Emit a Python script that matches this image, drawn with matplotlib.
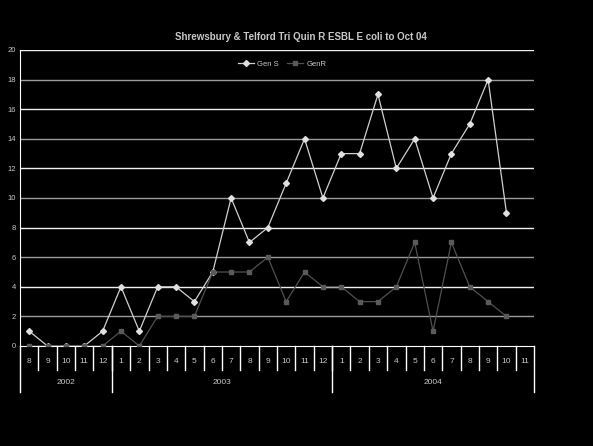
import numpy as np
import matplotlib
matplotlib.use('Agg')
import matplotlib.pyplot as plt

# donnees
months = ['8', '9', '10', '11', '12',
          '1', '2', '3', '4', '5', '6', '7', '8', '9', '10', '11', '12',
          '1', '2', '3', '4', '5', '6', '7', '8', '9', '10', '11']
years = ['2002', '2003', '2004']
months_per_year = [5, 12, 11]
gen_s = [1, 0, 0, 0, 1, 4, 1, 4, 4, 3, 5, 10, 7, 8, 11, 14, 10,
         13, 13, 17, 12, 14, 10, 13, 15, 18, 9, np.nan]
gen_r = [0, 0, 0, 0, 0, 1, 0, 2, 2, 2, 5, 5, 5, 6, 3, 5, 4,
         4, 3, 3, 4, 7, 1, 7, 4, 3, 2, np.nan]

plt.rcParams['font.family'] = ['Liberation Sans Narrow', 'Liberation Sans', 'DejaVu Sans']
txt = '#c8c8c8'

fig = plt.figure(figsize=(5.93, 4.46), dpi=100, facecolor='black')
ax = fig.add_axes([20/593, 1-346/446, 514/593, 296/446], facecolor='black')

n = len(months)
x = np.arange(n) + 0.5

# grille (rendu alterne clair / gris comme sur l'original)
for v in range(2, 21, 2):
    c = '#9a9a9a' if v in (2, 6, 10, 14, 18) else '#f0f0f0'
    ax.axhline(v, color=c, lw=1, zorder=1)

ax.plot(x, gen_s, color='#d0d0d0', lw=0.9, marker='D', ms=3,
        mfc='#e0e0e0', mec='#e0e0e0', label='Gen S', zorder=3)
ax.plot(x, gen_r, color='#505050', lw=0.9, marker='s', ms=3,
        mfc='#5a5a5a', mec='#5a5a5a', label='GenR', zorder=3)

ax.set_xlim(0, n)
ax.set_ylim(0, 20)
ax.set_yticks(range(0, 21, 2))
ax.tick_params(axis='y', colors=txt, labelsize=5.5, length=0, pad=3)
ax.set_xticks([])
for s in ['top', 'right']:
    ax.spines[s].set_visible(False)
ax.spines['left'].set_color('white')
ax.spines['bottom'].set_color('white')

# axe x a deux niveaux
trans = ax.get_xaxis_transform()
for i, m in enumerate(months):
    ax.text(i + 0.5, -0.051, m, transform=trans, ha='center', va='center',
            color=txt, fontsize=6)
for i in range(1, n):
    ax.plot([i, i], [0, -0.08], transform=trans, color='white', lw=1, clip_on=False)
start = 0
bounds = [0]
for y, k in zip(years, months_per_year):
    ax.text(start + k / 2, -0.125, y, transform=trans, ha='center', va='center',
            color=txt, fontsize=6)
    start += k
    bounds.append(start)
for b in bounds:
    ax.plot([b, b], [0, -0.155], transform=trans, color='white', lw=1, clip_on=False)

fig.text(0.508, 1-37/446, 'Shrewsbury & Telford Tri Quin R ESBL E coli to Oct 04',
         ha='center', va='center', color=txt, fontsize=7, fontweight='bold')

leg = ax.legend(loc='center', bbox_to_anchor=(282/593, 1-64/446),
                bbox_transform=fig.transFigure, ncol=2, frameon=False,
                fontsize=5.5, handlelength=2.2, columnspacing=1.0, handletextpad=0.4)
for t in leg.get_texts():
    t.set_color(txt)

fig.savefig('out.png', dpi=100, facecolor='black')
